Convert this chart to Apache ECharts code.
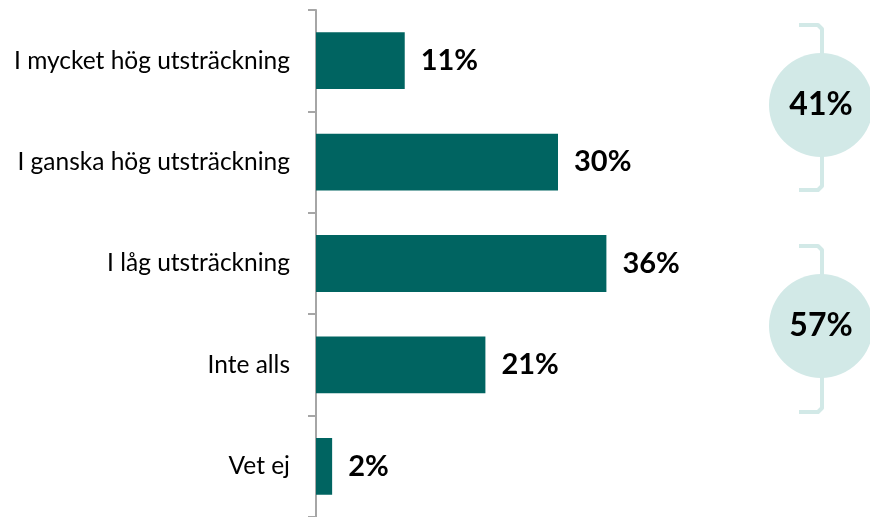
<!DOCTYPE html>
<html>
<head>
<meta charset="utf-8">
<script src="https://cdn.jsdelivr.net/npm/echarts@6/dist/echarts.min.js"></script>
<style>
  html, body { margin: 0; padding: 0; background: #fff; }
  #grafico { width: 870px; height: 517px; }
</style>
</head>
<body>
<div id="grafico"></div>
<script>
// --- dados ---
var categorias = ['I mycket hög utsträckning', 'I ganska hög utsträckning', 'I låg utsträckning', 'Inte alls', 'Vet ej'];
var valores = [11, 30, 36, 21, 2];
var somaTotais = ['41%', '57%'];

var fonte = 'Lato, "Open Sans", sans-serif';
var corBarra = '#006461';
var corCirculo = '#d2e9e7';

var grafico = echarts.init(document.getElementById('grafico'));

// circulo + colchete de cada grupo
function grupoResumo(texto, cx, cy, topo, base) {
    var r = 52;
    return {
        type: 'group',
        children: [
            {
                type: 'polyline',
                shape: { points: [[799, topo], [818, topo], [822, topo + 4], [822, cy - r + 2]] },
                style: { stroke: corCirculo, lineWidth: 4, fill: null, lineJoin: 'round' }
            },
            {
                type: 'polyline',
                shape: { points: [[822, cy + r - 2], [822, base - 4], [818, base], [799, base]] },
                style: { stroke: corCirculo, lineWidth: 4, fill: null, lineJoin: 'round' }
            },
            {
                type: 'circle',
                shape: { cx: cx, cy: cy, r: r },
                style: { fill: corCirculo }
            },
            {
                type: 'text',
                x: cx, y: cy,
                style: {
                    text: texto, fill: '#000', font: 'bold 32px ' + fonte,
                    align: 'center', verticalAlign: 'middle'
                }
            }
        ]
    };
}

var option = {
    animation: false,
    grid: { left: 316, right: 70, top: 10, bottom: 0 },
    xAxis: {
        type: 'value', min: 0, max: 60, show: false
    },
    yAxis: {
        type: 'category',
        inverse: true,
        data: categorias,
        axisLine: { show: true, lineStyle: { color: '#a6a6a6', width: 2 } },
        axisTick: { show: true, length: 8, lineStyle: { color: '#a6a6a6', width: 2 } },
        axisLabel: { color: '#000', fontSize: 24.5, fontFamily: fonte, margin: 26 }
    },
    series: [{
        type: 'bar',
        data: valores,
        barWidth: '56%',
        itemStyle: { color: corBarra },
        label: {
            show: true, position: 'right', distance: 16,
            formatter: '{c}%',
            color: '#000', fontSize: 29, fontWeight: 'bold', fontFamily: fonte
        }
    }],
    graphic: [
        grupoResumo(somaTotais[0], 821, 105, 25, 190),
        grupoResumo(somaTotais[1], 821, 326, 246, 412)
    ]
};
grafico.setOption(option);
</script>
</body>
</html>
